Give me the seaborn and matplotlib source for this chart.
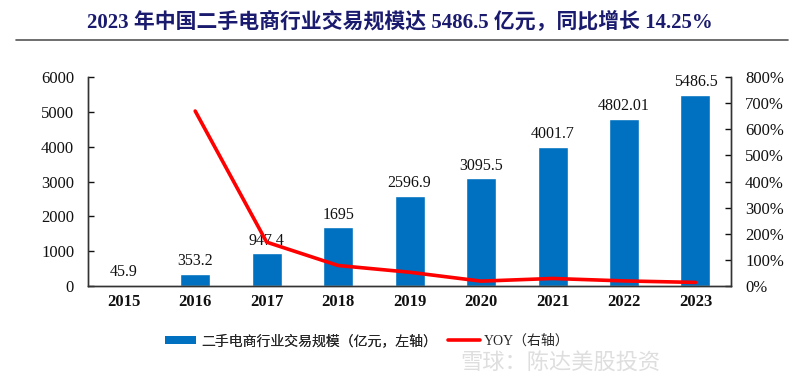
import matplotlib
matplotlib.use("Agg")
import matplotlib.pyplot as plt
import seaborn as sns
import pandas as pd
from matplotlib.ticker import FuncFormatter
from matplotlib.patches import Patch
from matplotlib.lines import Line2D

years = ["2015", "2016", "2017", "2018", "2019", "2020", "2021", "2022", "2023"]
gmv = [45.9, 353.2, 947.4, 1695, 2596.9, 3095.5, 4001.7, 4802.01, 5486.5]
gmv_labels = ["45.9", "353.2", "947.4", "1695", "2596.9", "3095.5", "4001.7", "4802.01", "5486.5"]
yoy = [None, 669.5, 168.2, 78.9, 53.2, 19.2, 29.3, 20.0, 14.25]

sns.set_theme(style="white")
serif_cjk = ["Liberation Serif", "Noto Sans CJK SC", "DejaVu Sans"]
plt.rcParams["font.family"] = serif_cjk

df = pd.DataFrame({"year": years, "gmv": gmv})
yoy_df = pd.DataFrame({"x": list(range(1, len(years))), "yoy": yoy[1:]})

fig = plt.figure(figsize=(8, 3.77), dpi=100)
ax = fig.add_axes([0.11, 0.241, 0.804, 0.555])
sns.barplot(data=df, x="year", y="gmv", color="#0070C0", width=0.42, ax=ax, saturation=1)
ax.set_xlim(-0.5, 8.5)
ax.set_ylim(0, 6000)
ax.set_yticks(range(0, 6001, 1000))
ax.set_xlabel("")
ax.set_ylabel("")
for i, (v, lab) in enumerate(zip(gmv, gmv_labels)):
    ax.text(i, v + 130, lab, ha="center", va="bottom", fontsize=11.5, color="#111111")

ax2 = ax.twinx()
sns.lineplot(data=yoy_df, x="x", y="yoy", color="#FF0000", linewidth=2.6, ax=ax2)
ax2.set_ylim(0, 800)
ax2.set_yticks(range(0, 801, 100))
ax2.yaxis.set_major_formatter(FuncFormatter(lambda v, p: f"{int(v)}%"))
ax2.set_ylabel("")
ax2.set_xlim(-0.5, 8.5)

for a in (ax, ax2):
    a.grid(False)
    a.spines["top"].set_visible(False)
    for s in ("left", "right", "bottom"):
        a.spines[s].set_color("#333333")
        a.spines[s].set_linewidth(1.0)
    a.tick_params(axis="both", labelsize=12, colors="#111111")
ax.tick_params(axis="y", direction="in", length=4, width=1, left=True, pad=10)
ax.tick_params(axis="x", length=0, pad=6)
ax2.tick_params(axis="y", direction="in", length=4, width=1, right=True, pad=10)
for lbl in ax.get_xticklabels():
    lbl.set_fontweight("bold")

fig.text(0.5, 0.94, "2023 年中国二手电商行业交易规模达 5486.5 亿元，同比增长 14.25%",
         ha="center", va="center", fontsize=15, fontweight="bold", color="#1A1A6E",
         family=serif_cjk)
fig.add_artist(Line2D([0.02, 0.985], [0.893, 0.893], color="#555555", linewidth=1.2))

leg1 = fig.legend([Patch(facecolor="#0070C0", edgecolor="none")],
                  ["二手电商行业交易规模（亿元，左轴）"],
                  loc="center left", bbox_to_anchor=(165 / 800, 0.0955),
                  frameon=False, borderpad=0, borderaxespad=0, handlelength=2.2,
                  handleheight=0.6, handletextpad=0.4,
                  prop={"family": serif_cjk, "size": 10})
leg2 = fig.legend([Line2D([0], [0], color="#FF0000", linewidth=2.6)],
                  ["YOY（右轴）"],
                  loc="center left", bbox_to_anchor=(448 / 800, 0.0955),
                  frameon=False, borderpad=0, borderaxespad=0, handlelength=2.3,
                  handletextpad=0.3,
                  prop={"family": serif_cjk, "size": 10})
fig.add_artist(leg1)

fig.text(0.70, 0.04, "雪球：陈达美股投资", ha="center", va="center", fontsize=16,
         color="#C8C8C8", alpha=0.6, family=["Noto Sans CJK SC", "DejaVu Sans"])

fig.savefig("out.png", dpi=100)
